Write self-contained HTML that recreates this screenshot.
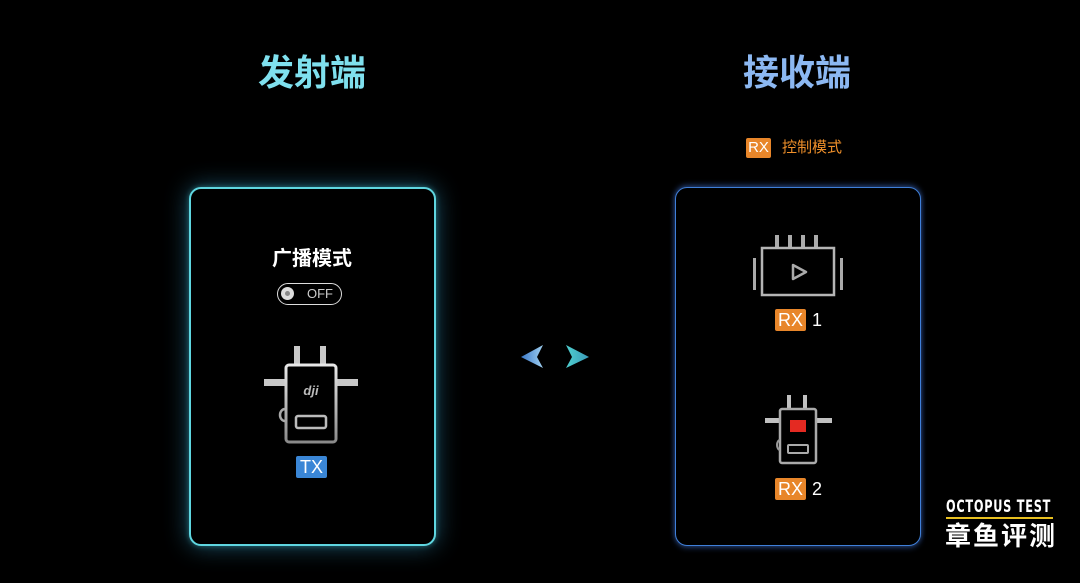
<!DOCTYPE html>
<html><head><meta charset="utf-8"><style>
html,body{margin:0;padding:0;background:#000;width:1080px;height:583px;overflow:hidden;position:relative;font-family:"Liberation Sans","Noto Sans CJK SC",sans-serif;}
.a{position:absolute;}
.card{position:absolute;border-radius:12px;background:#000;box-sizing:border-box;}
.badge{position:absolute;color:#fff;font-size:18px;text-align:center;border-radius:2px;line-height:22px;}
</style></head><body>
<div class="a" style="left:252px;top:50px;width:120px;text-align:center;font-size:36px;font-weight:bold;color:#7fe0ee;line-height:46px;">发射端</div>
<div class="a" style="left:737px;top:50px;width:120px;text-align:center;font-size:36px;font-weight:bold;color:#8cb8f2;line-height:46px;">接收端</div>
<div class="badge" style="left:746px;top:138px;width:25px;height:20px;line-height:20px;font-size:15px;background:#e8862a;">RX</div>
<div class="a" style="left:782px;top:138px;font-size:15px;color:#f0902a;line-height:20px;">控制模式</div>

<div class="card" style="left:189px;top:187px;width:247px;height:359px;border:2px solid #5fd6e0;box-shadow:0 0 24px rgba(60,180,230,0.45),0 0 6px rgba(80,220,220,0.4);"></div>
<div class="card" style="left:675px;top:187px;width:246px;height:359px;border:1.5px solid #3f7fd8;box-shadow:0 -2px 6px rgba(80,140,255,0.4),0 2px 6px rgba(80,140,255,0.35);"></div>

<div class="a" style="left:252px;top:246px;width:120px;text-align:center;font-size:20px;font-weight:bold;color:#fff;line-height:26px;">广播模式</div>
<div class="a" style="left:277px;top:283px;width:63px;height:20px;border:1.5px solid #ddd;border-radius:12px;"></div>
<div class="a" style="left:281px;top:287px;width:13px;height:13px;border-radius:50%;background:#ddd;"></div>
<div class="a" style="left:285px;top:291px;width:5px;height:5px;border-radius:50%;background:#888;"></div>
<div class="a" style="left:307px;top:285px;font-size:13px;color:#ccc;line-height:18px;">OFF</div>

<svg class="a" style="left:0;top:0" width="1080" height="583">
<defs><linearGradient id="g" x1="0" y1="0" x2="0" y2="1"><stop offset="0" stop-color="#e8e8e8"/><stop offset="1" stop-color="#8a8a8a"/></linearGradient>
<linearGradient id="la" x1="0" x2="1"><stop offset="0" stop-color="#3a78c8"/><stop offset="1" stop-color="#a0d0f0"/></linearGradient>
<linearGradient id="ra" x1="0" x2="1"><stop offset="0" stop-color="#4fd0d0"/><stop offset="1" stop-color="#3a9ab8"/></linearGradient></defs>
<g fill="#c8c8c8">
<rect x="294" y="346" width="6" height="18"/><rect x="320" y="346" width="6" height="18"/>
<rect x="264" y="379" width="22" height="7"/><rect x="336" y="379" width="22" height="7"/>
</g>
<rect x="286" y="365" width="50" height="77" rx="3" fill="none" stroke="url(#g)" stroke-width="3"/>
<path d="M285 409 a5 6 0 0 0 0 12" fill="none" stroke="#aaa" stroke-width="2.5"/>
<rect x="296" y="416" width="30" height="12" rx="2" fill="none" stroke="#bbb" stroke-width="2.5"/>
<text x="311" y="395" font-family="Liberation Sans" font-style="italic" font-weight="bold" font-size="13" fill="#bbb" text-anchor="middle">dji</text>
<g fill="#aaa"><rect x="775" y="235" width="4" height="14"/><rect x="788" y="235" width="4" height="14"/><rect x="801" y="235" width="4" height="14"/><rect x="814" y="235" width="4" height="14"/>
<rect x="753" y="258" width="3" height="32"/><rect x="840" y="258" width="3" height="32"/></g>
<rect x="762" y="248" width="72" height="47" fill="none" stroke="#b5b5b5" stroke-width="2.5"/>
<path d="M793 265 L806 272 L793 279 Z" fill="none" stroke="#aaa" stroke-width="2.5" stroke-linejoin="round"/>
<g fill="#c0c0c0"><rect x="787" y="395" width="4" height="13"/><rect x="803" y="395" width="4" height="13"/>
<rect x="765" y="418" width="16" height="5"/><rect x="816" y="418" width="16" height="5"/></g>
<rect x="780" y="409" width="36" height="54" rx="2" fill="none" stroke="#aaa" stroke-width="2.5"/>
<rect x="790" y="420" width="16" height="12" fill="#e42a22"/>
<rect x="788" y="445" width="20" height="8" rx="1" fill="none" stroke="#aaa" stroke-width="2"/>
<path d="M780 440 a3 5 0 0 0 0 10" fill="none" stroke="#999" stroke-width="2"/>
<path d="M543 345 L521 357 L543 368 L537 357 Z" fill="url(#la)"/>
<path d="M566 345 L589 357 L566 368 L572 357 Z" fill="url(#ra)"/>
<line x1="946" y1="518" x2="1053" y2="518" stroke="#e8c020" stroke-width="2"/>
</svg>

<div class="badge" style="left:296px;top:456px;width:31px;height:22px;background:#3a86d6;">TX</div>
<div class="badge" style="left:775px;top:309px;width:31px;height:22px;background:#e8862a;">RX</div>
<div class="a" style="left:812px;top:309px;font-size:18px;color:#fff;line-height:22px;">1</div>
<div class="badge" style="left:775px;top:478px;width:31px;height:22px;background:#e8862a;">RX</div>
<div class="a" style="left:812px;top:478px;font-size:18px;color:#fff;line-height:22px;">2</div>

<div class="a" style="left:946px;top:498px;white-space:nowrap;font-size:17px;font-weight:bold;color:#fff;letter-spacing:1px;line-height:18px;transform:scaleX(0.74);transform-origin:left;font-family:'DejaVu Sans Condensed','Liberation Sans',sans-serif;">OCTOPUS TEST</div>
<div class="a" style="left:945px;top:521px;font-size:26px;font-weight:bold;color:#fff;letter-spacing:2px;line-height:30px;">章鱼评测</div>
</body></html>
